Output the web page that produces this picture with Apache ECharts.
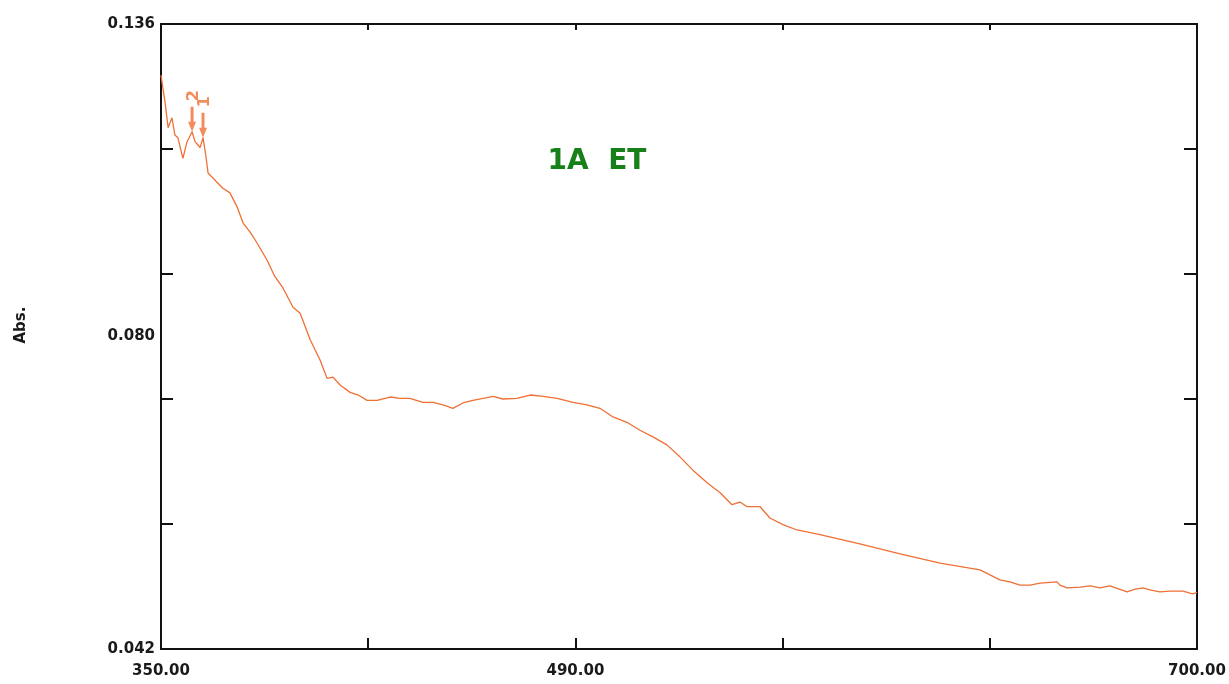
<!DOCTYPE html>
<html>
<head>
<meta charset="utf-8">
<script src="https://cdn.jsdelivr.net/npm/echarts@6/dist/echarts.min.js"></script>
<style>html,body{margin:0;padding:0;background:#fff}#c{width:1229px;height:684px}</style>
</head>
<body>
<div id="c"></div>
<script>
// Wavelength (nm) and absorbance
const wavelengths = [350.0,351.4,352.4,353.7,354.7,355.7,357.4,358.8,359.5,360.5,361.5,362.5,363.2,364.2,365.2,365.9,367.2,368.9,370.9,373.3,375.7,377.7,380.1,382.4,385.8,388.5,391.2,394.6,397.0,400.4,403.7,406.1,408.1,410.5,413.9,416.6,419.6,423.0,427.4,430.7,434.1,438.5,441.9,445.3,448.6,452.0,455.4,458.8,462.2,465.5,470.3,474.7,479.1,483.8,489.2,493.9,498.3,502.7,507.4,511.8,516.2,520.9,525.3,529.7,534.5,538.9,542.9,545.6,548.0,552.4,555.7,560.1,564.9,572.6,586.1,599.7,613.2,626.7,633.4,636.8,640.2,643.6,647.0,652.7,653.7,656.1,660.5,663.9,667.2,670.6,676.4,679.1,681.8,684.1,687.5,690.9,695.3,697.6,698.6,700.0];
const absorbance = [0.1283,0.1241,0.1204,0.1219,0.1193,0.1189,0.1158,0.1183,0.1189,0.1198,0.1183,0.1178,0.1174,0.1189,0.1160,0.1136,0.1130,0.1122,0.1113,0.1106,0.1085,0.1061,0.1047,0.1031,0.1005,0.0980,0.0963,0.0934,0.0925,0.0885,0.0855,0.0827,0.0829,0.0817,0.0806,0.0802,0.0794,0.0794,0.0799,0.0797,0.0797,0.0791,0.0791,0.0787,0.0782,0.0790,0.0794,0.0797,0.0800,0.0796,0.0797,0.0802,0.0800,0.0797,0.0791,0.0787,0.0782,0.0769,0.0761,0.0749,0.0739,0.0727,0.0709,0.0689,0.0670,0.0655,0.0637,0.0641,0.0634,0.0634,0.0617,0.0607,0.0599,0.0592,0.0578,0.0563,0.0549,0.0539,0.0524,0.0521,0.0516,0.0516,0.0519,0.0521,0.0516,0.0512,0.0513,0.0515,0.0512,0.0515,0.0506,0.0510,0.0512,0.0509,0.0506,0.0507,0.0507,0.0504,0.0503,0.0505];
// Peak picks
const peakNames = ['2','1'];
const peakWavelengths = [360.5,364.2];
const peakValues = [0.1198,0.1189];
// Axis ranges and tick labels
const xMin = 350, xMax = 700;
const xLabelValues = [350,490,700];
const xTickValues = [420,490,560,630];
const yMin = 0.042, yMax = 0.136;
const yTickLabels = ['0.042','0.080','0.136'];
const chartTitle = '1A  ET';
const yName = 'Abs.';

const yLabelPos = [yMin, (yMin+yMax)/2, yMax];
const yTickPos = [1,2,3,4].map(k => yMin + k*(yMax-yMin)/5);

const FONT = 'DejaVu Sans';
const lineData = wavelengths.map((w,i)=>[w, absorbance[i]]);
const peakData = peakWavelengths.map((w,i)=>({value:[w,peakValues[i]], name:peakNames[i]}));
const ORANGE = '#ef6f35';

const chart = echarts.init(document.getElementById('c'), null, {renderer:'canvas'});
const axisLineStyle = {color:'#111', width:2};
chart.setOption({
  animation:false,
  backgroundColor:'#fff',
  grid:{left:161, right:32, top:24, bottom:35, containLabel:false},
  xAxis:[{
    type:'value', min:xMin, max:xMax, position:'bottom',
    axisLine:{show:true, onZero:false, lineStyle:axisLineStyle},
    axisTick:{show:true, inside:true, length:11, customValues:xTickValues, lineStyle:{color:'#111', width:2}},
    axisLabel:{customValues:xLabelValues, formatter:v=>v.toFixed(2), fontFamily:FONT, fontWeight:'bold', fontSize:15, color:'#1a1a1a', margin:15},
    splitLine:{show:false}
  },{
    type:'value', min:xMin, max:xMax, position:'top',
    axisLine:{show:true, onZero:false, lineStyle:axisLineStyle},
    axisTick:{show:true, inside:true, length:6, customValues:xTickValues, lineStyle:{color:'#111', width:2}},
    axisLabel:{show:false}, splitLine:{show:false}
  }],
  yAxis:[{
    type:'value', min:yMin, max:yMax, position:'left',
    axisLine:{show:true, onZero:false, lineStyle:axisLineStyle},
    axisTick:{show:true, inside:true, length:12, customValues:yTickPos, lineStyle:{color:'#111', width:2}},
    axisLabel:{customValues:yLabelPos, formatter:v=>{const i=yLabelPos.findIndex(p=>Math.abs(p-v)<1e-9); return i>=0?yTickLabels[i]:'';}, fontFamily:FONT, fontWeight:'bold', fontSize:15, color:'#1a1a1a', margin:6},
    splitLine:{show:false}
  },{
    type:'value', min:yMin, max:yMax, position:'right',
    axisLine:{show:true, onZero:false, lineStyle:axisLineStyle},
    axisTick:{show:true, inside:true, length:13, customValues:yTickPos, lineStyle:{color:'#111', width:2}},
    axisLabel:{show:false}, splitLine:{show:false}
  }],
  graphic:[{
    type:'text', x:597, y:162,
    style:{text:chartTitle, fill:'#188018', font:'bold 28px "DejaVu Sans"', align:'center', verticalAlign:'middle'}
  },{
    type:'text', x:21, y:325, rotation:Math.PI/2,
    style:{text:yName, fill:'#1a1a1a', font:'bold 15px "DejaVu Sans"', align:'center', verticalAlign:'middle'}
  }],
  series:[{
    type:'line', data:lineData, xAxisIndex:0, yAxisIndex:0,
    showSymbol:false, symbol:'none',
    lineStyle:{color:ORANGE, width:1.3}
  },{
    type:'scatter', data:peakData, xAxisIndex:0, yAxisIndex:0,
    symbol:'path://M2.5,0 L5.5,0 L5.5,15 L8,15 L4,25 L0,15 L2.5,15 Z',
    symbolSize:[8,25], symbolOffset:[0,'-50%'],
    itemStyle:{color:ORANGE},
    label:{show:true, formatter:p=>p.name, position:'top', distance:11, rotate:90, offset:[0,10],
      fontFamily:FONT, fontWeight:'bold', fontSize:16, color:ORANGE}
  }]
});
</script>
</body>
</html>
